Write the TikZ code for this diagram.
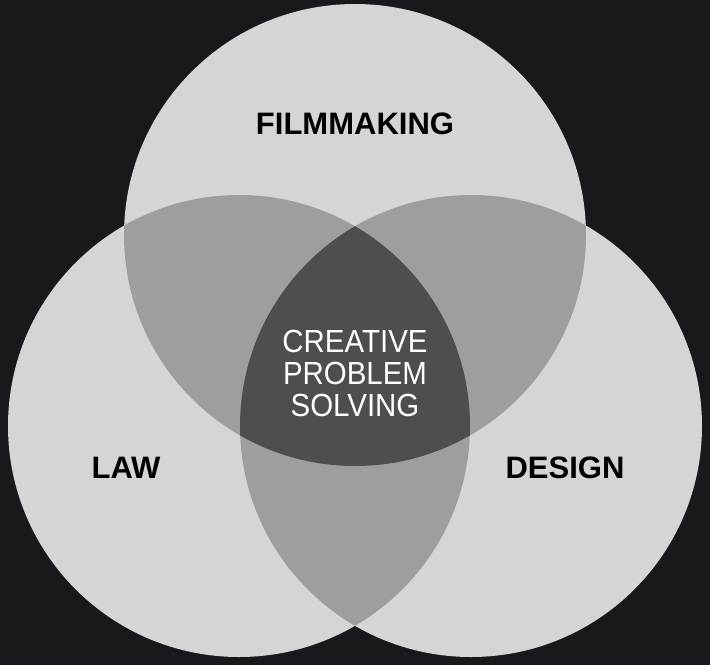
\documentclass[tikz,border=0pt]{standalone}
\usepackage{fontspec}
\setmainfont{Liberation Sans}
\definecolor{bgcol}{HTML}{19181D}
\definecolor{lightcol}{HTML}{D5D5D5}
\definecolor{midcol}{HTML}{9E9E9E}
\definecolor{darkcol}{HTML}{4E4E4E}
\tikzset{
  outerlabel/.style={inner sep=0pt, text=black, font=\fontsize{31}{31}\selectfont\bfseries},
  innerlabel/.style={inner sep=0pt, text=white, align=center, xscale=0.92, transform shape, font=\fontsize{32}{32}\selectfont},
}
\begin{document}
\begin{tikzpicture}[x=1pt,y=-1pt]
\fill[bgcol] (0,0) rectangle (710,665);
\useasboundingbox (0,0) rectangle (710,665);
\coordinate (cT) at (355,235);
\coordinate (cL) at (239,426);
\coordinate (cR) at (471,426);
\def\rad{231pt}
% single circles
\fill[lightcol] (cT) circle[radius=\rad];
\fill[lightcol] (cL) circle[radius=\rad];
\fill[lightcol] (cR) circle[radius=\rad];
% pairwise overlaps
\begin{scope}
  \clip (cT) circle[radius=\rad];
  \fill[midcol] (cL) circle[radius=\rad];
  \fill[midcol] (cR) circle[radius=\rad];
\end{scope}
\begin{scope}
  \clip (cL) circle[radius=\rad];
  \fill[midcol] (cR) circle[radius=\rad];
\end{scope}
% triple overlap
\begin{scope}
  \clip (cT) circle[radius=\rad];
  \clip (cL) circle[radius=\rad];
  \fill[darkcol] (cR) circle[radius=\rad];
\end{scope}
% labels
\node[outerlabel] (film) at (355,123.5) {FILMMAKING};
\node[outerlabel] (law) at (126,468) {LAW};
\node[outerlabel] (design) at (565,468) {DESIGN};
\node[innerlabel] (cps) at (355,373.5) {CREATIVE\\PROBLEM\\SOLVING};
\end{tikzpicture}
\end{document}
